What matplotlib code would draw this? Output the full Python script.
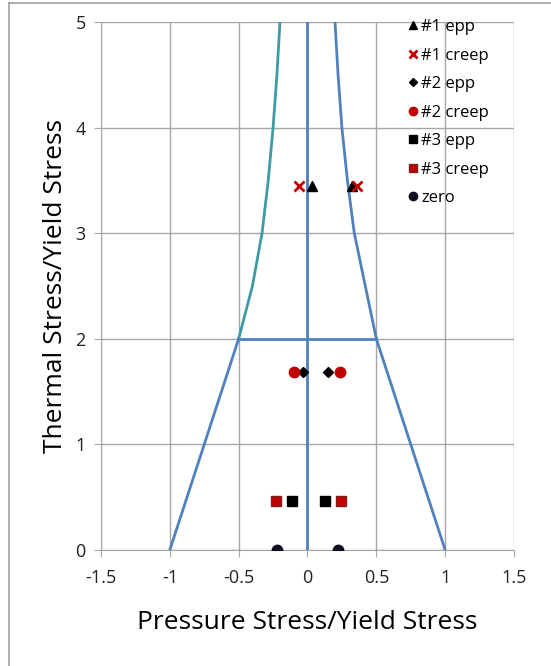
import matplotlib.pyplot as plt
from matplotlib.lines import Line2D

plt.rcParams['font.family'] = ['Open Sans', 'DejaVu Sans']

# Bree diagram boundaries
curve_y = [2.0, 2.5, 3.0, 3.5, 4.0, 4.5, 5.0]
left_curve_x = [-0.5, -0.40, -0.33, -0.285, -0.25, -0.222, -0.20]
right_curve_x = [0.5, 0.42, 0.34, 0.29, 0.25, 0.222, 0.20]
lower_left_x, lower_left_y = [-1.0, -0.5], [0.0, 2.0]
lower_right_x, lower_right_y = [1.0, 0.5], [0.0, 2.0]
mid_x, mid_y = [-0.5, 0.5], [2.0, 2.0]
axis_x, axis_y = [0.0, 0.0], [0.0, 5.0]

# test points
epp1_x, epp1_y = [0.03, 0.32], [3.45, 3.45]
creep1_x, creep1_y = [-0.06, 0.36], [3.45, 3.45]
epp2_x, epp2_y = [-0.035, 0.15], [1.69, 1.69]
creep2_x, creep2_y = [-0.10, 0.236], [1.69, 1.69]
epp3_x, epp3_y = [-0.115, 0.13], [0.46, 0.46]
creep3_x, creep3_y = [-0.23, 0.245], [0.46, 0.46]
zero_x, zero_y = [-0.22, 0.224], [0.0, 0.0]

blue = '#4F81BD'
teal = '#3F9AA8'
red = '#C00000'
grid = '#A6A6A6'

fig = plt.figure(figsize=(5.51, 6.66), dpi=100)
ax = fig.add_axes([0.1833, 0.1742, 0.7495, 0.7928])

lw = 2.0
ax.plot(left_curve_x, curve_y, color=teal, lw=lw, zorder=3)
ax.plot(right_curve_x, curve_y, color=blue, lw=lw, zorder=3)
ax.plot(lower_left_x, lower_left_y, color=blue, lw=lw, zorder=3)
ax.plot(lower_right_x, lower_right_y, color=blue, lw=lw, zorder=3)
ax.plot(mid_x, mid_y, color=blue, lw=lw, zorder=3)
ax.plot(axis_x, axis_y, color=blue, lw=lw, zorder=3)

ms = 7
ax.plot(epp1_x, epp1_y, ls='none', marker='^', color='black', ms=ms, zorder=5, label='#1 epp')
ax.plot(creep1_x, creep1_y, ls='none', marker='x', color=red, ms=ms, mew=2, zorder=5, label='#1 creep')
ax.plot(epp2_x, epp2_y, ls='none', marker='D', color='black', ms=5, zorder=5, label='#2 epp')
ax.plot(creep2_x, creep2_y, ls='none', marker='o', color=red, ms=ms + 0.5, zorder=5, label='#2 creep')
ax.plot(epp3_x, epp3_y, ls='none', marker='s', color='black', ms=ms, zorder=5, label='#3 epp')
ax.plot(creep3_x, creep3_y, ls='none', marker='s', color=red, mec='#7F2020', ms=ms + 0.5, zorder=5, label='#3 creep')
ax.plot(zero_x, zero_y, ls='none', marker='o', color='#0D0D1F', ms=ms + 0.5, zorder=5, label='zero')

ax.set_xlim(-1.5, 1.5)
ax.set_ylim(0, 5)
ax.set_xticks([-1.5, -1, -0.5, 0, 0.5, 1, 1.5])
ax.set_xticklabels(['-1.5', '-1', '-0.5', '0', '0.5', '1', '1.5'])
ax.set_yticks([0, 1, 2, 3, 4, 5])
ax.grid(True, color=grid, lw=1)
ax.set_axisbelow(True)
for s in ['top', 'right']:
    ax.spines[s].set_visible(False)
for s in ['left', 'bottom']:
    ax.spines[s].set_color(grid)
ax.tick_params(colors=grid, labelcolor='#222222', labelsize=13, length=5, pad=9)
ax.tick_params(axis='y', pad=6)

ax.set_xlabel('Pressure Stress/Yield Stress', fontsize=19, labelpad=16)
ax.set_ylabel('Thermal Stress/Yield Stress', fontsize=19, labelpad=5)

ax.legend(loc='upper left', bbox_to_anchor=(0.727, 0.981), bbox_transform=fig.transFigure,
          frameon=False, fontsize=12, handlelength=0.7, handletextpad=0.15,
          labelspacing=0.75, borderaxespad=0, markerscale=0.8)

# outer border (top and left visible)
fig.add_artist(Line2D([0.016, 1.0], [0.995, 0.995], transform=fig.transFigure, color='#A0A0A0', lw=1.2))
fig.add_artist(Line2D([0.016, 0.016], [0.0, 0.995], transform=fig.transFigure, color='#A0A0A0', lw=1.2))

fig.savefig('out.png', dpi=100)
